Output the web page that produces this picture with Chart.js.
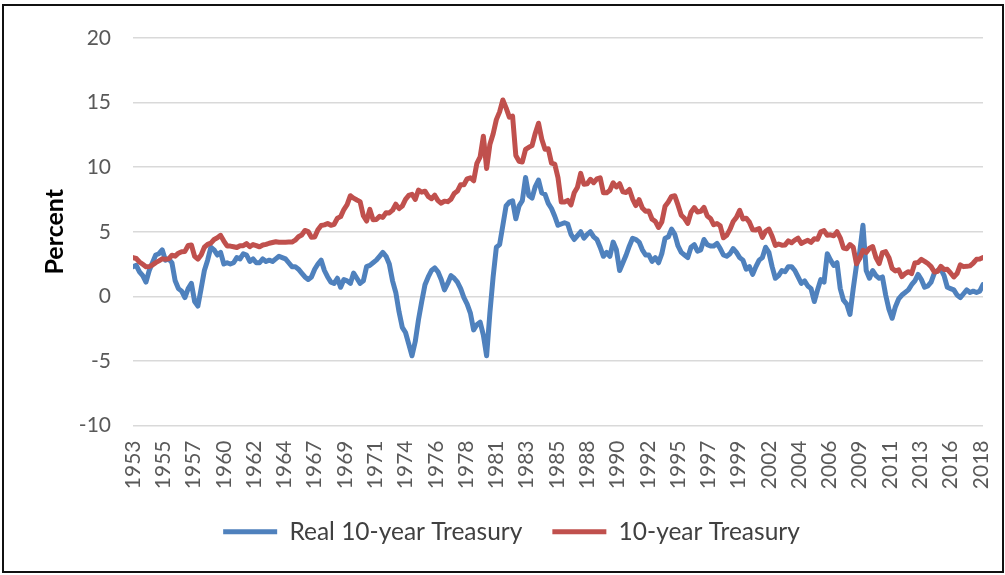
<!DOCTYPE html>
<html><head><meta charset="utf-8">
<script src="https://cdn.jsdelivr.net/npm/chart.js@4.4.1/dist/chart.umd.min.js"></script>
<style>
html,body{margin:0;padding:0;background:#fff;}
#wrap{position:relative;width:1005px;height:575px;background:#fff;}
#frame{position:absolute;left:2px;top:4px;width:1002px;height:569px;border:2px solid #111;box-sizing:border-box;pointer-events:none;}
canvas{position:absolute;left:0;top:0;}
</style></head><body>
<div id="wrap"><canvas id="c" width="1005" height="575"></canvas><div id="frame"></div></div>
<script>
// Quarterly observations (Jan, Apr, Jul, Oct) starting April 1953
const firstQuarter = 1953.25;
const seriesNames = ['Real 10-year Treasury', '10-year Treasury'];
const xTickLabels = ['1953','1955','1957','1960','1962','1964','1967','1969','1971','1974','1976','1978','1981','1983','1985','1988','1990','1992','1995','1997','1999','2002','2004','2006','2009','2011','2013','2016','2018'];
const yTicks = [-10, -5, 0, 5, 10, 15, 20];

const real10y = [
  2.3, 2.4, 1.9,
  1.6, 1.1, 2.0, 2.6,
  3.2, 3.3, 3.6, 2.8,
  2.9, 2.6, 1.2, 0.6,
  0.4, -0.1, 0.6, 1.0,
  -0.4, -0.75, 0.6, 2.0,
  2.8, 3.8, 3.6, 3.2,
  3.4, 2.5, 2.6, 2.5,
  2.6, 3.0, 2.9, 3.3,
  3.2, 2.7, 2.9, 2.6,
  2.6, 2.9, 2.7, 2.8,
  2.7, 2.9, 3.1, 3.0,
  2.9, 2.6, 2.3, 2.3,
  2.1, 1.8, 1.5, 1.3,
  1.5, 2.1, 2.5, 2.8,
  2.0, 1.5, 1.1, 1.0,
  1.4, 0.7, 1.3, 1.2,
  1.0, 1.8, 1.4, 1.0,
  1.2, 2.3, 2.4, 2.6,
  2.8, 3.1, 3.4, 3.1,
  2.5, 1.2, 0.3, -1.2,
  -2.4, -2.8, -3.7, -4.6,
  -3.5, -1.8, -0.4, 0.9,
  1.5, 2.0, 2.2, 1.9,
  1.3, 0.5, 1.0, 1.6,
  1.4, 1.1, 0.6, -0.1,
  -0.6, -1.3, -2.6, -2.2,
  -2.0, -3.0, -4.6, -1.3,
  1.5, 3.8, 4.0, 5.5,
  7.0, 7.3, 7.4, 6.0,
  7.0, 7.4, 9.2, 7.8,
  7.6, 8.5, 9.0, 8.0,
  7.9, 7.2, 6.8, 6.2,
  5.5, 5.6, 5.7, 5.6,
  4.8, 4.4, 4.7, 5.0,
  4.5, 4.8, 5.0, 4.6,
  4.4, 3.8, 3.1, 3.4,
  3.1, 4.2, 3.6, 2.0,
  2.6, 3.2, 3.9, 4.5,
  4.4, 4.2, 3.6, 3.2,
  3.2, 2.7, 3.0, 2.6,
  3.3, 4.5, 4.6, 5.2,
  4.8, 3.9, 3.4, 3.2,
  3.0, 3.8, 4.0, 3.5,
  3.6, 4.4, 4.0, 3.9,
  3.9, 4.1, 3.7, 3.2,
  3.1, 3.3, 3.7, 3.4,
  3.0, 2.8, 2.1, 2.3,
  1.7, 2.3, 2.8, 3.0,
  3.8, 3.4, 2.3, 1.4,
  1.6, 2.0, 1.9, 2.3,
  2.3, 2.0, 1.5, 1.0,
  1.2, 0.8, 0.6, -0.4,
  0.5, 1.3, 1.1, 3.3,
  2.8, 2.4, 2.6, 0.6,
  -0.3, -0.6, -1.4, 0.6,
  2.4, 3.4, 5.5, 2.0,
  1.4, 2.0, 1.6, 1.4,
  1.5, 0.1, -1.0, -1.7,
  -0.8, -0.2, 0.1, 0.3,
  0.5, 0.9, 1.2, 1.7,
  1.3, 0.7, 0.8, 1.1,
  1.8, 2.0, 2.1, 1.6,
  0.7, 0.6, 0.5, 0.1,
  -0.1, 0.2, 0.5, 0.3,
  0.4, 0.3, 0.4, 0.9
];

const nominal10y = [
  3.0, 2.93, 2.66,
  2.48, 2.29, 2.30, 2.43,
  2.61, 2.75, 2.90, 2.88,
  2.90, 3.18, 3.11, 3.34,
  3.46, 3.48, 3.93, 3.97,
  3.09, 2.88, 3.20, 3.80,
  4.02, 4.12, 4.40, 4.53,
  4.72, 4.28, 3.90, 3.89,
  3.84, 3.78, 3.92, 3.92,
  4.08, 3.84, 4.01, 3.93,
  3.83, 3.97, 4.02, 4.11,
  4.17, 4.23, 4.19, 4.19,
  4.19, 4.20, 4.20, 4.35,
  4.61, 4.75, 5.10, 5.01,
  4.58, 4.59, 5.16, 5.48,
  5.53, 5.64, 5.50, 5.58,
  6.04, 6.17, 6.72, 7.10,
  7.79, 7.60, 7.46, 7.33,
  6.24, 5.83, 6.73, 5.93,
  5.95, 6.19, 6.11, 6.48,
  6.46, 6.67, 7.13, 6.79,
  6.99, 7.51, 7.81, 7.90,
  7.50, 8.23, 8.06, 8.14,
  7.74, 7.56, 7.83, 7.41,
  7.21, 7.37, 7.33, 7.52,
  7.96, 8.15, 8.64, 8.64,
  9.10, 9.18, 8.95, 10.30,
  10.80, 12.40, 9.90, 11.75,
  12.57, 13.68, 14.28, 15.20,
  14.59, 13.87, 13.95, 10.91,
  10.46, 10.40, 11.38, 11.54,
  11.67, 12.63, 13.40, 12.16,
  11.38, 11.43, 10.31, 10.24,
  9.19, 7.30, 7.30, 7.43,
  7.08, 8.02, 8.45, 9.52,
  8.67, 8.72, 9.06, 8.80,
  9.09, 9.18, 8.02, 8.01,
  8.21, 8.79, 8.47, 8.72,
  8.09, 8.04, 8.27, 7.53,
  7.03, 7.48, 6.84, 6.59,
  6.60, 5.97, 5.81, 5.33,
  5.75, 6.97, 7.30, 7.74,
  7.78, 7.06, 6.28, 6.04,
  5.65, 6.51, 6.87, 6.53,
  6.58, 6.89, 6.22, 6.03,
  5.54, 5.64, 5.46, 4.53,
  4.72, 5.18, 5.79, 6.11,
  6.66, 5.99, 6.05, 5.74,
  5.16, 5.14, 5.24, 4.57,
  5.04, 5.21, 4.65, 3.94,
  4.05, 3.96, 3.98, 4.29,
  4.15, 4.35, 4.50, 4.10,
  4.22, 4.34, 4.18, 4.46,
  4.42, 4.99, 5.09, 4.73,
  4.76, 4.69, 5.00, 4.53,
  3.74, 3.68, 4.01, 3.81,
  2.52, 2.93, 3.56, 3.39,
  3.73, 3.85, 3.01, 2.54,
  3.39, 3.46, 3.00, 2.15,
  1.97, 2.05, 1.53, 1.75,
  1.91, 1.76, 2.58, 2.62,
  2.86, 2.71, 2.54, 2.30,
  1.88, 1.94, 2.32, 2.07,
  2.09, 1.81, 1.50, 1.76,
  2.43, 2.30, 2.32, 2.36,
  2.58, 2.87, 2.89, 3.00
];

const colors = ['#4F81BD', '#C0504D'];
const FONT = 'Lato, "Open Sans", sans-serif';

function toPoints(values) {
  return values.map((v, i) => ({ x: firstQuarter + i * 0.25, y: v }));
}

new Chart(document.getElementById('c'), {
  type: 'line',
  data: {
    datasets: [
      { label: seriesNames[0], data: toPoints(real10y), borderColor: colors[0], backgroundColor: colors[0],
        borderWidth: 5, pointRadius: 0, tension: 0, borderJoinStyle: 'round', borderCapStyle: 'round', order: 2 },
      { label: seriesNames[1], data: toPoints(nominal10y), borderColor: colors[1], backgroundColor: colors[1],
        borderWidth: 5, pointRadius: 0, tension: 0, borderJoinStyle: 'round', borderCapStyle: 'round', order: 1 }
    ]
  },
  options: {
    responsive: false,
    animation: false,
    layout: { padding: { left: 40, right: 22, top: 38, bottom: 21 } },
    plugins: {
      tooltip: { enabled: false },
      legend: {
        position: 'bottom',
        labels: {
          boxWidth: 54, boxHeight: 5, padding: 30, color: '#404040',
          font: { family: FONT, size: 24.5 },
          generateLabels(chart) {
            return chart.data.datasets.map((ds, i) => ({
              text: ds.label, fillStyle: ds.borderColor, strokeStyle: ds.borderColor,
              lineWidth: 0, hidden: false, datasetIndex: i, fontColor: '#404040'
            }));
          }
        }
      }
    },
    scales: {
      x: {
        type: 'linear',
        min: firstQuarter,
        max: firstQuarter + (real10y.length - 1) * 0.25,
        grid: { display: false, drawTicks: false },
        border: { display: false },
        afterBuildTicks(scale) {
          scale.ticks = xTickLabels.map((_, k) => ({ value: firstQuarter + k * 28 / 12 }));
        },
        ticks: {
          autoSkip: false, maxRotation: 90, minRotation: 90, padding: 15,
          color: '#595959', font: { family: FONT, size: 21 },
          callback: (v, i) => xTickLabels[i]
        },
        afterFit(scale) { scale.height = 64; scale.paddingLeft = 0; scale.paddingRight = 0; }
      },
      y: {
        min: yTicks[0], max: yTicks[yTicks.length - 1],
        afterBuildTicks(scale) { scale.ticks = yTicks.map(v => ({ value: v })); },
        ticks: { color: '#595959', font: { family: FONT, size: 21 }, padding: 22 },
        grid: { color: '#d9d9d9', lineWidth: 1.5, drawTicks: false },
        border: { display: false },
        title: { display: true, text: 'Percent', color: '#000', font: { family: FONT, size: 25, weight: 'bold' }, padding: { top: 0, bottom: 0 } },
        afterFit(scale) { scale.width = 93; }
      }
    }
  }
});
</script>
</body></html>
